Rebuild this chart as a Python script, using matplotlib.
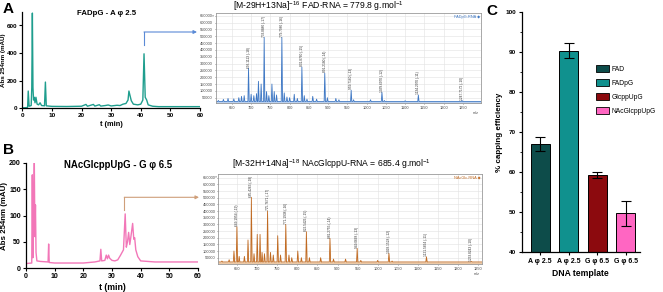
import matplotlib
matplotlib.use("Agg")
import matplotlib.pyplot as plt
import numpy as np
from matplotlib.lines import Line2D
from matplotlib.patches import Patch

plt.rcParams['font.family'] = ['Liberation Sans', 'DejaVu Sans']
plt.rcParams['mathtext.fontset'] = 'custom'
plt.rcParams['mathtext.rm'] = 'Liberation Sans'
plt.rcParams['mathtext.it'] = 'Liberation Sans:italic'
plt.rcParams['mathtext.bf'] = 'Liberation Sans:bold'

# ---------------- data ----------------
# Chromatogram A (FADpG)
tA = [0, 1.5, 1.8, 2.0, 2.3, 3.0, 3.2, 3.4, 3.6, 3.8, 4.0, 4.3, 4.6, 5.0, 5.5, 6.0, 6.5, 7.5, 7.8, 8.1,
      10, 15, 20, 21.5, 22, 24, 24.5, 26, 26.5, 28, 29, 30, 32, 33, 34, 35, 35.7, 36, 36.4, 36.8, 37.5,
      39, 40, 40.7, 41.1, 41.5, 42, 42.5, 44, 46, 50, 60]
absA = [3, 5, 8, 125, 15, 20, 150, 690, 150, 60, 80, 40, 80, 30, 25, 40, 20, 18, 190, 18,
        14, 13, 15, 28, 15, 28, 16, 26, 16, 20, 24, 17, 22, 20, 30, 35, 60, 125, 90, 55, 30,
        25, 30, 60, 395, 80, 60, 25, 15, 12, 12, 12]
# Chromatogram B (NAcGlcppUpG)
tB = [0, 2.0, 2.2, 2.4, 2.6, 2.9, 3.1, 3.3, 3.5, 3.8, 5, 7.7, 7.9, 8.1, 10, 15, 20, 24, 25.8, 26.1, 26.4,
      27.5, 28, 28.4, 28.8, 29.2, 30, 31, 32, 33, 34, 34.6, 35.0, 35.4, 35.8, 36.2, 36.6, 37.2, 37.6,
      37.9, 38.3, 39, 40, 45, 60]
absB = [9, 10, 177, 20, 100, 200, 60, 120, 30, 14, 13, 12, 46, 11, 10, 10, 10, 12, 14, 36, 14,
        15, 25, 18, 25, 19, 15, 14, 16, 25, 35, 103, 40, 50, 68, 45, 60, 85, 55,
        58, 35, 22, 14, 12, 12]

# Mass spectrum A: (m/z, intensity)
msA_mz = [615, 628, 640, 655, 668, 675, 682, 693.2, 700, 707, 714, 719, 726, 733.9, 740, 746, 754, 760,
          766, 779.8, 786, 793, 800, 812, 820, 831.8, 838, 845, 860, 870, 891.2, 898, 920, 928,
          959.8, 966, 1010, 1039.7, 1046, 1100, 1134.3, 1247.7]
msA_int = [30000, 38000, 45000, 42000, 50000, 60000, 65000, 265000, 75000, 65000, 80000, 170000, 150000,
           492000, 95000, 65000, 150000, 95000, 70000, 492000, 85000, 55000, 50000, 75000, 45000,
           275000, 65000, 40000, 60000, 40000, 230000, 50000, 45000, 35000, 105000, 35000, 35000,
           90000, 30000, 28000, 70000, 30000]
msA_labels = {693.2: "693.1113 (-18)", 733.9: "733.8880 (-17)", 779.8: "779.7980 (-16)",
              831.8: "831.8760 (-15)", 891.2: "891.2180 (-14)", 959.8: "959.7160 (-13)",
              1039.7: "1039.6970 (-12)", 1134.3: "1134.2970 (-11)", 1247.7: "1247.7172 (-10)"}

# Mass spectrum B
msB_mz = [612, 630, 642, 649.3, 655, 668, 677, 685.4, 692, 700, 707, 712, 718, 725.7, 733, 740, 751,
          758, 771.1, 779, 786, 801, 810, 822.5, 830, 858, 881.2, 890, 920, 949.0, 958, 1000,
          1028.1, 1036, 1121.6, 1233.7]
msB_int = [25000, 35000, 100000, 282000, 60000, 60000, 183000, 503000, 80000, 225000, 225000, 90000,
           80000, 400000, 90000, 70000, 215000, 70000, 300000, 70000, 50000, 100000, 50000, 245000,
           50000, 50000, 195000, 40000, 40000, 120000, 30000, 30000, 83000, 25000, 57000, 22000]
msB_labels = {649.3: "649.1954 (-19)", 685.4: "685.4263 (-18)", 725.7: "725.7671 (-17)",
              771.1: "771.1938 (-16)", 822.5: "822.5426 (-15)", 881.2: "881.2755 (-14)",
              949.0: "949.0668 (-13)", 1028.1: "1028.1528 (-12)", 1121.6: "1121.5664 (-11)",
              1233.7: "1233.8243 (-10)"}

# Bar chart C
templates = ["A φ 2.5", "A φ 2.5", "G φ 6.5", "G φ 6.5"]
caps = ["FAD", "FADpG", "GlcppUpG", "NAcGlcppUpG"]
eff = [67.0, 90.3, 59.3, 49.7]
err = [1.8, 1.8, 0.7, 3.2]
bar_colors = ["#0d4c4a", "#10918e", "#8c0a0e", "#ff66c2"]

# ---------------- figure ----------------
W, H = 663, 292
fig = plt.figure(figsize=(W / 100, H / 100), dpi=100)


def rect(l, t, r, b):
    return [l / W, 1 - b / H, (r - l) / W, (b - t) / H]


def chrom(ax, t, a, color, ylim, yticks, title, fs_tick, fs_lab, fs_ylab, fs_title, ylab_x,
          left, right, title_xy):
    ax.plot(t, a, color=color, lw=1.0)
    ax.set_xlim(0, 60)
    ax.set_ylim(*ylim)
    ax.set_xticks(range(0, 61, 10))
    ax.set_yticks(yticks)
    for s in ['top', 'right']:
        ax.spines[s].set_visible(False)
    for s in ['left', 'bottom']:
        ax.spines[s].set_linewidth(0.9)
    ax.tick_params(length=2.5, width=0.8, pad=1.2, labelsize=fs_tick)
    for lab in ax.get_xticklabels() + ax.get_yticklabels():
        lab.set_fontweight('bold')
    ax.set_xlabel("t (min)", fontsize=fs_lab, fontweight='bold', labelpad=2)
    ax.set_ylabel("Abs 254nm (mAU)", fontsize=fs_ylab, fontweight='bold')
    ax.yaxis.set_label_coords((ylab_x - left) / (right - left), 0.5)
    fig.text(title_xy[0] / W, 1 - title_xy[1] / H, title, fontsize=fs_title, fontweight='bold',
             ha='center', va='center')


axA = fig.add_axes(rect(22.3, 11.7, 200, 108.3))
chrom(axA, tA, absA, "#1f9e8e", (0, 700), [0, 200, 400, 600], "FADpG - A φ 2.5", 4.6, 5.3, 4.5,
      5.6, 6.5, 22.3, 200, (107, 13.5))
axB = fig.add_axes(rect(26, 162.7, 198, 268.3))
chrom(axB, tB, absB, "#f277b8", (0, 200), [0, 50, 100, 150, 200], "NAcGlcppUpG - G φ 6.5", 5.0, 6.3,
      5.7, 6.9, 8.5, 26, 198, (118, 164.5))


def spectrum(ax, mz, inten, labels, color, fillc, xlim, ylim, base, tag, tagc):
    xs, ys = [xlim[0]], [base]
    for m, h in sorted(zip(mz, inten)):
        xs += [m - 1.6, m, m + 1.6]
        ys += [base, h, base]
    xs.append(xlim[1]); ys.append(base)
    ax.fill_between(xs, ylim[0], ys, color=fillc, lw=0)
    ax.plot(xs, ys, color=color, lw=0.6)
    for m, h in zip(mz, inten):
        if m in labels:
            ax.text(m, h + 5000, labels[m], rotation=90, ha='center', va='bottom',
                    fontsize=2.3, color='#333333')
    ax.set_xlim(*xlim)
    ax.set_ylim(*ylim)
    ax.set_xticks(range(650, 1251, 50))
    ax.set_yticks(range(50000, 650001, 50000))
    ax.grid(True, color='#e2e2e2', lw=0.4)
    ax.set_axisbelow(True)
    ax.tick_params(labelsize=2.8, length=1, width=0.4, pad=1, colors='#444444')
    for s in ax.spines.values():
        s.set_color('#9a9a9a'); s.set_linewidth(0.6)
    ax.text(0.995, 0.985, tag, transform=ax.transAxes, ha='right', va='top',
            fontsize=2.8, color=tagc, family=['Liberation Sans', 'DejaVu Sans'])
    ax.text(0.99, -0.085, "m/z", transform=ax.transAxes, ha='right', va='top', fontsize=2.6,
            color='#444444')
    ax.text(-0.005, 0.995, "×", transform=ax.transAxes, ha='right', va='top', fontsize=2.6,
            color='#444444')


axMA = fig.add_axes(rect(215.7, 13.3, 481, 103.3))
spectrum(axMA, msA_mz, msA_int, msA_labels, "#3f78c4", "#b9cfee", (608, 1297), (9000, 667500),
         22000, "FADpG-RNA ◆", "#3f78c4")
fig.text(318 / W, 1 - 6.5 / H,
         r"[M-29H+13Na]$^{\mathregular{-16}}$ FAD-RNA = 779.8 g.mol$^{\mathregular{-1}}$",
         ha='center', va='center', fontsize=6.2)
axMB = fig.add_axes(rect(218.3, 174.3, 482, 264))
spectrum(axMB, msB_mz, msB_int, msB_labels, "#c06a22", "#ecc9a6", (603, 1260), (2750, 675500),
         18000, "NAcGlc-RNA ◆", "#c06a22")
fig.text(332 / W, 1 - 164 / H,
         r"[M-32H+14Na]$^{\mathregular{-18}}$ NAcGlcppU-RNA = 685.4 g.mol$^{\mathregular{-1}}$",
         ha='center', va='center', fontsize=6.2)

# connector arrows
fig.add_artist(Line2D([144 / W, 144 / W], [1 - 45 / H, 1 - 32 / H], color="#5b8ad6", lw=0.8))
fig.add_artist(plt.Annotation("", xy=(197 / W, 1 - 32 / H), xytext=(144 / W, 1 - 32 / H),
                              xycoords='figure fraction',
                              arrowprops=dict(arrowstyle='-|>', color="#5b8ad6", lw=0.8,
                                              mutation_scale=5, shrinkA=0, shrinkB=0)))
fig.add_artist(Line2D([124.3 / W, 124.3 / W], [1 - 210 / H, 1 - 197.3 / H], color="#cf9f7a", lw=0.8))
fig.add_artist(plt.Annotation("", xy=(199 / W, 1 - 197.3 / H), xytext=(124.3 / W, 1 - 197.3 / H),
                              xycoords='figure fraction',
                              arrowprops=dict(arrowstyle='-|>', color="#cf9f7a", lw=0.8,
                                              mutation_scale=5, shrinkA=0, shrinkB=0)))

# bar chart
axC = fig.add_axes(rect(521.7, 11.7, 640, 252.3))
x = np.arange(len(eff))
axC.bar(x, eff, width=0.67, color=bar_colors, edgecolor='black', linewidth=0.7, zorder=2)
axC.errorbar(x, eff, yerr=err, fmt='none', ecolor='black', elinewidth=0.8, capsize=3.5,
             capthick=0.8, zorder=3)
axC.set_xlim(-0.65, 3.5)
axC.set_ylim(40, 100)
axC.set_yticks(range(40, 101, 10))
axC.set_yticks(range(45, 100, 10), minor=True)
axC.set_xticks(x)
axC.set_xticklabels(templates)
for s in ['top', 'right']:
    axC.spines[s].set_visible(False)
for s in ['left', 'bottom']:
    axC.spines[s].set_linewidth(0.9)
axC.tick_params(which='major', length=2.5, width=0.8, pad=1.5, labelsize=4.6)
axC.tick_params(which='minor', length=1.5, width=0.6)
axC.tick_params(axis='x', labelsize=5.0)
for lab in axC.get_xticklabels() + axC.get_yticklabels():
    lab.set_fontweight('bold')
axC.set_xlabel("DNA template", fontsize=6.2, fontweight='bold', labelpad=3)
axC.set_ylabel("% capping efficiency", fontsize=5.8, fontweight='bold', labelpad=2)
handles = [Patch(facecolor=c, edgecolor='black', linewidth=0.6) for c in bar_colors]
axC.legend(handles, caps, loc='upper left', bbox_to_anchor=(596 / W, 1 - 65 / H),
           bbox_transform=fig.transFigure, frameon=False, fontsize=4.9, handlelength=1.9,
           handleheight=1.1, labelspacing=0.95, borderpad=0, handletextpad=0.4, borderaxespad=0)

# panel letters
fig.text(3 / W, 1 - 2 / H, "A", fontsize=11, fontweight='bold', va='top')
fig.text(3 / W, 1 - 143 / H, "B", fontsize=11, fontweight='bold', va='top')
fig.text(486 / W, 1 - 4 / H, "C", fontsize=11, fontweight='bold', va='top')

fig.savefig("out.png", dpi=100)
